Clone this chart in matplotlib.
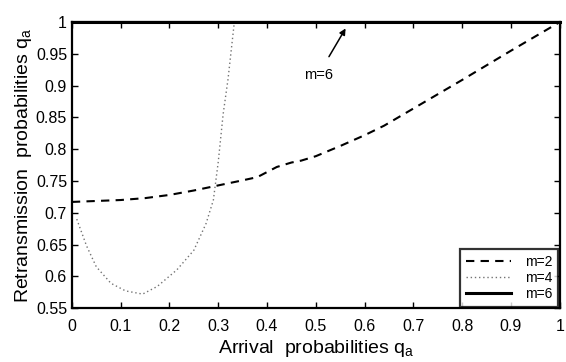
import numpy as np
import matplotlib
matplotlib.use("Agg")
from matplotlib import pyplot

# m=2 curve (dashed)
qa_m2 = [0.0, 0.1, 0.15, 0.2, 0.25, 0.3, 0.35, 0.38, 0.4, 0.42, 0.45, 0.47,
         0.5, 0.55, 0.6, 0.64, 0.7, 0.8, 0.9, 1.0]
qr_m2 = [0.717, 0.72, 0.723, 0.728, 0.735, 0.743, 0.751, 0.756, 0.764, 0.772,
         0.779, 0.782, 0.789, 0.805, 0.822, 0.837, 0.864, 0.909, 0.955, 1.0]

# m=4 curve (dotted)
qa_m4 = [0.01, 0.03, 0.05, 0.08, 0.11, 0.145, 0.175, 0.215, 0.25, 0.275,
         0.29, 0.30, 0.31, 0.32, 0.333]
qr_m4 = [0.69, 0.648, 0.615, 0.589, 0.577, 0.572, 0.584, 0.61, 0.641, 0.683,
         0.72, 0.78, 0.855, 0.91, 1.0]

# m=6 curve (solid, stuck at 1)
qa_m6 = [0.0, 1.0]
qr_m6 = [1.0, 1.0]

xticks = np.arange(0, 1.01, 0.1)
yticks = np.arange(0.55, 1.001, 0.05)

pyplot.rcParams['font.family'] = ['Liberation Sans', 'DejaVu Sans']

fig = pyplot.figure(figsize=(5.66, 3.62), dpi=100)
ax = fig.add_axes([0.127, 0.149, 0.862, 0.790])

ax.plot(qa_m2, qr_m2, color='k', linestyle=(0, (4, 3)), linewidth=1.5, label='m=2')
ax.plot(qa_m4, qr_m4, color='0.45', linestyle=(0, (1, 2)), linewidth=1.0, label='m=4')
ax.plot(qa_m6, qr_m6, color='k', linestyle='-', linewidth=2.2, label='m=6',
        clip_on=False, zorder=5)

ax.annotate('m=6', xy=(0.561, 0.99), xytext=(0.505, 0.917),
            ha='center', va='center', fontsize=10.5,
            arrowprops=dict(arrowstyle='-|>', color='k', lw=1.1,
                            mutation_scale=9, shrinkA=7, shrinkB=0))

ax.set_xlim(0, 1)
ax.set_ylim(0.55, 1)
ax.set_xticks(xticks)
ax.set_yticks(yticks)
ax.set_xticklabels(['0', '0.1', '0.2', '0.3', '0.4', '0.5', '0.6', '0.7', '0.8', '0.9', '1'])
ax.set_yticklabels(['0.55', '0.6', '0.65', '0.7', '0.75', '0.8', '0.85', '0.9', '0.95', '1'])
ax.tick_params(direction='in', top=True, right=True, labelsize=11.5, length=4, width=1)
ax.tick_params(axis='x', pad=8)
for s in ax.spines.values():
    s.set_linewidth(1.6)

ax.set_xlabel('Arrival  probabilities q$_\\mathregular{a}$', fontsize=14, labelpad=3)
ax.set_ylabel('Retransmission  probabilities q$_\\mathregular{a}$', fontsize=14, labelpad=1)

leg = ax.legend(loc='lower right', fontsize=10, handlelength=3.3, frameon=True,
                fancybox=False, borderpad=0.4, labelspacing=0.15,
                borderaxespad=0.1, handletextpad=1.0)
leg.get_frame().set_edgecolor('k')
leg.get_frame().set_linewidth(1.6)

pyplot.savefig('out.png', dpi=100)
